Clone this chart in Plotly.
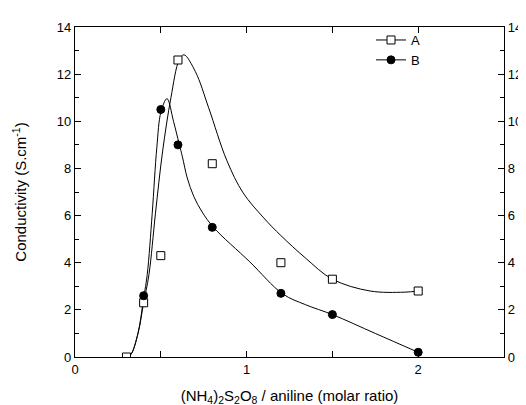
import plotly.graph_objects as go

# Measured data points
x_a = [0.3, 0.4, 0.5, 0.6, 0.8, 1.2, 1.5, 2.0]
y_a = [0.0, 2.3, 4.3, 12.6, 8.2, 4.0, 3.3, 2.8]
x_b = [0.4, 0.5, 0.6, 0.8, 1.2, 1.5, 2.0]
y_b = [2.6, 10.5, 9.0, 5.5, 2.7, 1.8, 0.2]

# Smooth guide curves
fit_a_x = [0.30, 0.325, 0.367, 0.40, 0.431, 0.469, 0.51, 0.559, 0.607, 0.635, 0.702, 0.779,
           0.884, 0.98, 1.1, 1.2, 1.343, 1.5, 1.72, 1.917, 2.0]
fit_a_y = [0.0, 0.1, 1.0, 2.3, 3.5, 6.1, 8.7, 11.0, 12.6, 12.82, 12.1, 10.57,
           8.35, 6.96, 5.9, 5.15, 4.2, 3.3, 2.8, 2.75, 2.8]
fit_b_x = [0.30, 0.325, 0.367, 0.40, 0.421, 0.45, 0.477, 0.501, 0.536, 0.574, 0.607, 0.626,
           0.654, 0.693, 0.741, 0.807, 1.018, 1.21, 1.343, 1.5, 1.75, 2.0]
fit_b_y = [0.0, 0.1, 1.0, 2.5, 3.5, 6.1, 8.9, 10.4, 10.96, 10.0, 9.04, 8.49,
           7.6, 6.8, 6.15, 5.5, 4.04, 2.68, 2.22, 1.8, 1.0, 0.2]

x_ticks = [0, 1, 2]
y_ticks = [0, 2, 4, 6, 8, 10, 12, 14]

FONT = "Liberation Sans, Arial, sans-serif"

fig = go.Figure()

fig.add_trace(go.Scatter(x=fit_a_x, y=fit_a_y, mode="lines", line=dict(color="black", width=1, shape="spline", smoothing=1.0),
                         showlegend=False, hoverinfo="skip"))
fig.add_trace(go.Scatter(x=fit_b_x, y=fit_b_y, mode="lines", line=dict(color="black", width=1, shape="spline", smoothing=1.0),
                         showlegend=False, hoverinfo="skip"))

fig.add_trace(go.Scatter(x=x_a, y=y_a, mode="markers",
                         marker=dict(symbol="square", size=8, color="white", line=dict(color="black", width=1)),
                         showlegend=False))
fig.add_trace(go.Scatter(x=x_b, y=y_b, mode="markers",
                         marker=dict(symbol="circle", size=8, color="black", line=dict(color="black", width=1)),
                         showlegend=False))

# legend entries
fig.add_trace(go.Scatter(x=[None], y=[None], mode="lines+markers", name="A",
                         line=dict(color="black", width=1),
                         marker=dict(symbol="square", size=8, color="white", line=dict(color="black", width=1))))
fig.add_trace(go.Scatter(x=[None], y=[None], mode="lines+markers", name="B",
                         line=dict(color="black", width=1),
                         marker=dict(symbol="circle", size=8, color="black", line=dict(color="black", width=1))))

# dummy for the right axis
fig.add_trace(go.Scatter(x=[None], y=[None], yaxis="y2", showlegend=False, hoverinfo="skip"))

fig.update_layout(
    width=526, height=405,
    margin=dict(l=66, r=24, t=18, b=51),
    plot_bgcolor="white", paper_bgcolor="white",
    font=dict(family=FONT, size=13, color="black"),
    xaxis=dict(
        range=[0, 2.5], tickmode="array", tickvals=x_ticks, ticktext=[str(v) for v in x_ticks],
        ticks="inside", ticklen=6, tickwidth=1, tickcolor="black",
        minor=dict(tickvals=[0.5, 1.5, 2.5], ticks="inside", ticklen=4, tickcolor="black"),
        showline=True, linecolor="black", linewidth=1.2, mirror="allticks",
        showgrid=False, zeroline=False,
        title=dict(text="(NH<sub>4</sub>)<sub>2</sub>S<sub>2</sub>O<sub>8</sub> / aniline (molar ratio)",
                   font=dict(size=15), standoff=14),
    ),
    yaxis=dict(
        range=[0, 14], tickmode="array", tickvals=y_ticks,
        ticks="inside", ticklen=6, tickwidth=1, tickcolor="black",
        minor=dict(dtick=1, ticks="inside", ticklen=4, tickcolor="black"),
        showline=True, linecolor="black", linewidth=1.2, mirror=True,
        showgrid=False, zeroline=False,
        title=dict(text="Conductivity (S.cm<sup>-1</sup>)", font=dict(size=15), standoff=26),
    ),
    yaxis2=dict(
        range=[0, 14], overlaying="y", side="right", tickmode="array", tickvals=y_ticks,
        ticks="inside", ticklen=6, tickwidth=1, tickcolor="black",
        minor=dict(dtick=1, ticks="inside", ticklen=4, tickcolor="black"),
        showline=True, linecolor="black", linewidth=1.2,
        showgrid=False, zeroline=False,
    ),
    legend=dict(x=0.69, y=1.006, xanchor="left", yanchor="top", bgcolor="rgba(0,0,0,0)",
                font=dict(size=13), tracegroupgap=0, itemwidth=30),
    showlegend=True,
)

fig.write_html("out.html")
